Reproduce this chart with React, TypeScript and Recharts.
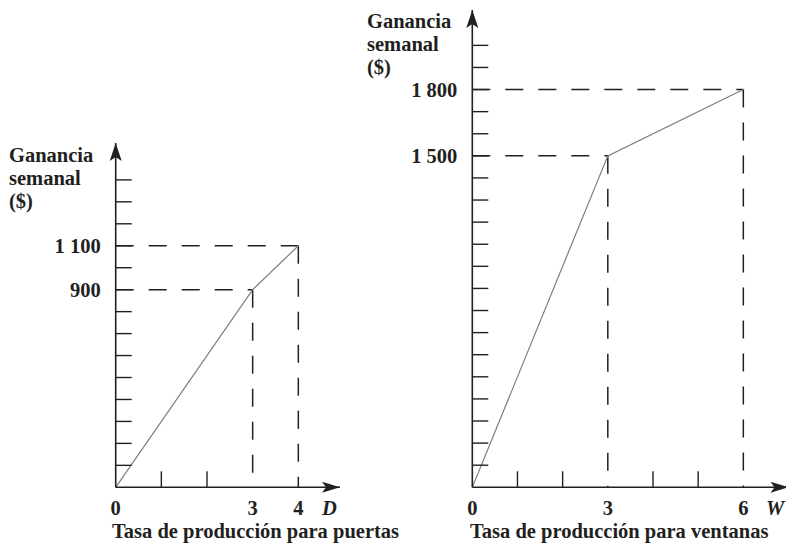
import React from 'react';
import { LineChart, Line, XAxis, YAxis, ReferenceLine, ReferenceDot } from 'recharts';

// Puertas (D)
const doorRate = [0, 3, 4];
const doorProfit = [0, 900, 1100];
const doorXTicks = [0, 1, 2, 3, 4];
const doorXLabels = [0, 3, 4];
const doorYTicks = [100, 200, 300, 400, 500, 600, 700, 800, 900, 1000, 1100, 1200, 1300, 1400];
const doorYLabels = [900, 1100];

// Ventanas (W)
const windowRate = [0, 3, 6];
const windowProfit = [0, 1500, 1800];
const windowXTicks = [0, 1, 2, 3, 4, 5, 6];
const windowXLabels = [0, 3, 6];
const windowYTicks = [100, 200, 300, 400, 500, 600, 700, 800, 900, 1000, 1100, 1200, 1300, 1400, 1500, 1600, 1700, 1800, 1900, 2000];
const windowYLabels = [1500, 1800];

const INK = '#231f20';
const FONT = '"Liberation Serif", "Times New Roman", serif';
const FS = 20.5;
const Y_AXIS_W = 60;
const X_AXIS_H = 30;

const fmt = (v: number) =>
  v >= 1000 ? `${Math.floor(v / 1000)} ${String(v % 1000).padStart(3, '0')}` : String(v);

const upArrow = (p: any) => {
  const { cx, cy } = p;
  return <path d={`M${cx},${cy} L${cx - 6},${cy + 18} L${cx},${cy + 14} L${cx + 6},${cy + 18} Z`} fill={INK} />;
};

const rightArrow = (p: any) => {
  const { cx, cy } = p;
  return <path d={`M${cx},${cy} L${cx - 18},${cy - 5.5} L${cx - 14},${cy} L${cx - 18},${cy + 5.5} Z`} fill={INK} />;
};

interface PanelProps {
  rates: number[];
  profits: number[];
  xTicks: number[];
  xLabels: number[];
  yTicks: number[];
  yLabels: number[];
  xMax: number;
  yMax: number;
  left: number;
  width: number;
  // plot-area edges inside this panel
  plot: { top: number; right: number; bottom: number; left: number };
}

function Panel({ rates, profits, xTicks, xLabels, yTicks, yLabels, xMax, yMax, left, width, plot }: PanelProps) {
  const data = rates.map((x, i) => ({ x, y: profits[i] }));
  const margin = {
    top: plot.top,
    right: plot.right,
    bottom: plot.bottom - X_AXIS_H,
    left: plot.left - Y_AXIS_W,
  };

  const yTick = (p: any) => {
    const { x, y, payload } = p;
    return (
      <g>
        <line x1={x} x2={x + 16} y1={y} y2={y} stroke={INK} strokeWidth={1.4} />
        {yLabels.includes(payload.value) && (
          <text x={x - 15} y={y} dy="0.34em" textAnchor="end" fontFamily={FONT} fontWeight="bold" fontSize={FS} fill={INK}>
            {fmt(payload.value)}
          </text>
        )}
      </g>
    );
  };

  const xTick = (p: any) => {
    const { x, y, payload } = p;
    const labelled = xLabels.includes(payload.value);
    return (
      <g>
        {!labelled && <line x1={x} x2={x} y1={y} y2={y - 16} stroke={INK} strokeWidth={1.4} />}
        {labelled && (
          <text x={x} y={y + 28} textAnchor="middle" fontFamily={FONT} fontWeight="bold" fontSize={FS} fill={INK}>
            {fmt(payload.value)}
          </text>
        )}
      </g>
    );
  };

  const dash = { stroke: INK, strokeWidth: 1.5, strokeDasharray: '18 15' };

  return (
    <div style={{ position: 'absolute', left, top: 0 }}>
      <LineChart width={width} height={546} data={data} margin={margin}>
        <XAxis
          type="number"
          dataKey="x"
          domain={[0, xMax]}
          ticks={xTicks}
          interval={0}
          allowDataOverflow
          height={X_AXIS_H}
          tickSize={0}
          tickMargin={0}
          tickLine={false}
          axisLine={{ stroke: INK, strokeWidth: 1.6 }}
          tick={xTick}
        />
        <YAxis
          type="number"
          domain={[0, yMax]}
          ticks={yTicks}
          interval={0}
          allowDataOverflow
          width={Y_AXIS_W}
          tickSize={0}
          tickMargin={0}
          tickLine={false}
          axisLine={{ stroke: INK, strokeWidth: 1.6 }}
          tick={yTick}
        />
        {rates.slice(1).map((r, i) => (
          <ReferenceLine key={`h${r}`} segment={[{ x: 0, y: profits[i + 1] }, { x: r, y: profits[i + 1] }]} {...dash} />
        ))}
        {rates.slice(1).map((r, i) => (
          <ReferenceLine key={`v${r}`} segment={[{ x: r, y: profits[i + 1] }, { x: r, y: 0 }]} {...dash} />
        ))}
        <Line
          type="linear"
          dataKey="y"
          stroke="#7d7d7d"
          strokeWidth={1.2}
          dot={false}
          activeDot={false}
          isAnimationActive={false}
        />
        <ReferenceDot x={0} y={yMax} ifOverflow="visible" shape={upArrow} />
        <ReferenceDot x={xMax} y={0} ifOverflow="visible" shape={rightArrow} />
      </LineChart>
    </div>
  );
}

const textStyle = { fontFamily: FONT, fontWeight: 'bold' as const, fontSize: FS, fill: INK };

export default function App() {
  return (
    <div style={{ position: 'absolute', left: 0, top: 0, width: 786, height: 546, overflow: 'hidden', background: '#fff' }}>
      <Panel
        rates={doorRate}
        profits={doorProfit}
        xTicks={doorXTicks}
        xLabels={doorXLabels}
        yTicks={doorYTicks}
        yLabels={doorYLabels}
        xMax={4.913}
        yMax={1568}
        left={0}
        width={450}
        plot={{ top: 143, right: 110, bottom: 58.7, left: 115.7 }}
      />
      <Panel
        rates={windowRate}
        profits={windowProfit}
        xTicks={windowXTicks}
        xLabels={windowXLabels}
        yTicks={windowYTicks}
        yLabels={windowYLabels}
        xMax={7}
        yMax={2160}
        left={355}
        width={445}
        plot={{ top: 10, right: 11.5, bottom: 58.7, left: 117.3 }}
      />
      <svg width={786} height={546} style={{ position: 'absolute', left: 0, top: 0, pointerEvents: 'none' }}>
        <text x={9} y={162} {...textStyle}>Ganancia</text>
        <text x={9} y={185} {...textStyle}>semanal</text>
        <text x={9} y={208} {...textStyle}>($)</text>
        <text x={322} y={515} {...textStyle} fontStyle="italic">D</text>
        <text x={112} y={538} {...textStyle}>Tasa de producción para puertas</text>

        <text x={367} y={28} {...textStyle}>Ganancia</text>
        <text x={367} y={51} {...textStyle}>semanal</text>
        <text x={367} y={74} {...textStyle}>($)</text>
        <text x={766} y={515} {...textStyle} fontStyle="italic">W</text>
        <text x={470} y={538} {...textStyle}>Tasa de producción para ventanas</text>
      </svg>
    </div>
  );
}
